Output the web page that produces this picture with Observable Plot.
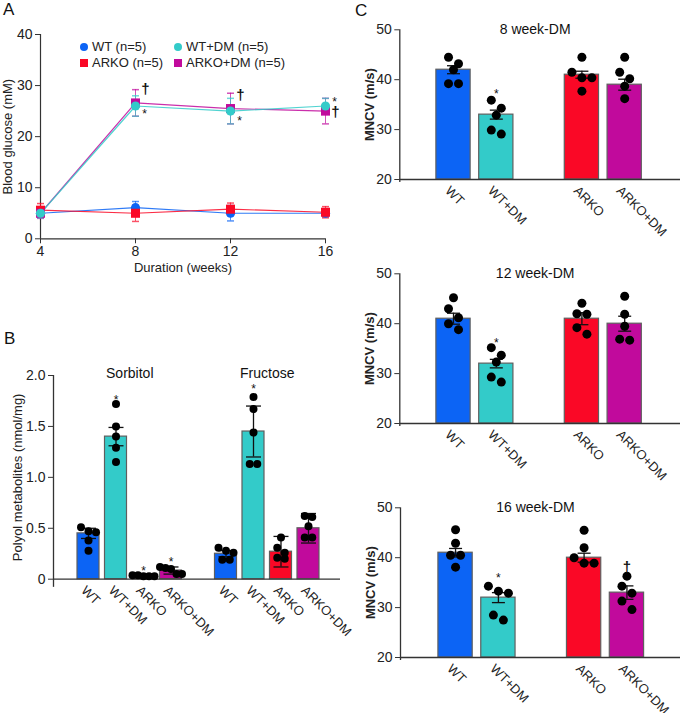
<!DOCTYPE html>
<html><head><meta charset="utf-8">
<script src="https://cdn.jsdelivr.net/npm/d3@7"></script>
<script src="https://cdn.jsdelivr.net/npm/@observablehq/plot@0.6"></script>
<style>
body{margin:0;background:#fff;font-family:"Liberation Sans",Arial,Helvetica,sans-serif;}
#fig{position:relative;width:680px;height:713px;overflow:hidden;background:#fff;}
.panel{position:absolute;}
.plabel{position:absolute;font-size:17px;line-height:17px;color:#111;}
.leg{position:absolute;display:flex;align-items:center;font-size:13px;line-height:16px;color:#222;white-space:nowrap;}
.leg svg{margin-right:3px;}
</style></head><body><div id="fig"></div>
<script>
const FONT = '"Liberation Sans", Arial, Helvetica, sans-serif';
const groupKeys = ["WT", "WT+DM", "ARKO", "ARKO+DM"];
const groupColors = ["#0c64f5", "#33cbc9", "#fa0826", "#c10a9c"];

// ---------- Panel A data ----------
const weeks = [4, 8, 12, 16];
const legendLabels = ["WT (n=5)", "WT+DM (n=5)", "ARKO (n=5)", "ARKO+DM (n=5)"];
const glucoseWT = [5.0, 6.1, 5.0, 5.0];
const glucoseWTErr = [0.8, 1.2, 1.5, 0.7];
const glucoseWTDM = [5.0, 26.0, 25.0, 26.0];
const glucoseWTDMErr = [0.9, 2.0, 2.5, 1.5];
const glucoseARKO = [5.6, 5.0, 5.8, 5.2];
const glucoseARKOErr = [1.3, 1.6, 1.2, 1.1];
const glucoseARKODM = [5.0, 26.6, 25.5, 25.0];
const glucoseARKODMErr = [1.0, 2.6, 3.0, 2.5];
const aTicksY = [0, 10, 20, 30, 40];
const aDaggerWeeks = [8, 12, 16];
const aDaggerValues = [29.2, 28.2, 24.8];
const aStarWeeks = [8, 12, 16];
const aStarValues = [25.0, 23.6, 27.3];

// ---------- Panel B data ----------
const polyolGroups = ["Sorbitol", "Fructose"];
const sorbitolMean = [0.45, 1.40, 0.03, 0.085];
const sorbitolSD = [0.05, 0.09, 0.01, 0.035];
const sorbitolPoints = [[0.51, 0.47, 0.46, 0.38, 0.28], [1.72, 1.50, 1.40, 1.29, 1.15], [0.04, 0.04, 0.03, 0.03, 0.03], [0.12, 0.11, 0.10, 0.05, 0.05]];
const sorbitolStars = [null, 1.79, 0.11, 0.20];
const fructoseMean = [0.25, 1.45, 0.27, 0.50];
const fructoseSD = [0.03, 0.25, 0.15, 0.145];
const fructosePoints = [[0.31, 0.28, 0.26, 0.19, 0.19], [1.79, 1.67, 1.44, 1.13, 1.13], [0.41, 0.31, 0.26, 0.21, 0.20], [0.62, 0.61, 0.52, 0.41, 0.41]];
const fructoseStars = [null, 1.90, null, null];
const bTicks = [0, 0.5, 1, 1.5, 2];
const bTickLabels = ["0", "0.5", "1.0", "1.5", "2.0"];

// ---------- Panel C data ----------
const mncvTitles = ["8 week-DM", "12 week-DM", "16 week-DM"];
const mncv8Mean = [42, 33, 41, 39];
const mncv8SEM = [0.8, 0.9, 0.7, 1.1];
const mncv8Points = [[44.5, 43.2, 42.0, 39.2, 39.2], [35.9, 34.3, 32.9, 29.9, 29.1], [44.5, 41.5, 40.4, 40.4, 37.7], [44.5, 41.5, 40.2, 38.7, 36.2]];
const mncv8Marks = [null, "*", null, null];
const mncv8MarkValues = [null, 37.7, null, null];
const mncv12Mean = [41, 32, 41, 40];
const mncv12SEM = [1.1, 0.85, 1.2, 1.5];
const mncv12Points = [[45.2, 43.0, 41.2, 40.0, 38.8], [35.2, 33.7, 32.3, 29.3, 28.3], [44.1, 42.0, 41.9, 39.2, 37.9], [45.5, 41.9, 39.5, 36.9, 36.7]];
const mncv12Marks = [null, "*", null, null];
const mncv12MarkValues = [null, 36.7, null, null];
const mncv16Mean = [41, 32, 40, 33];
const mncv16SEM = [0.85, 1.0, 0.9, 1.35];
const mncv16Points = [[45.6, 42.9, 40.5, 40.5, 38.1], [34.3, 33.3, 32.9, 28.5, 27.5], [45.5, 42.0, 40.0, 38.9, 38.9], [36.3, 34.3, 32.9, 31.3, 29.6]];
const mncv16Marks = [null, "*", null, "†"];
const mncv16MarkValues = [null, 36.5, null, 38.1];
const cTicks = [20, 30, 40, 50];
const cTickLabels = ["20", "30", "40", "50"];

// ---------- helpers ----------
const fig = document.getElementById("fig");
const STYLE = {fontFamily: FONT, fontSize: "13px", color: "#222", background: "transparent", overflow: "visible"};
const AXIS = "#333";
function place(el, left, top, w) {
  const d = document.createElement("div");
  d.className = "panel"; d.style.left = left + "px"; d.style.top = top + "px"; if (w) d.style.width = w + "px";
  d.appendChild(el); fig.appendChild(d);
}
function letter(t, left, top) {
  const d = document.createElement("div"); d.className = "plabel"; d.textContent = t;
  d.style.left = left + "px"; d.style.top = top + "px"; fig.appendChild(d);
}
const capSymbol = (w) => ({draw(ctx) { ctx.moveTo(-w / 2, 0); ctx.lineTo(w / 2, 0); }});

function swarm(values, unitPx, diam, spacing, maxHalf) {
  const order = values.map((v, i) => i).sort((a, b) => values[b] - values[a]);
  const rows = [];
  for (const i of order) {
    const last = rows[rows.length - 1];
    if (last && (values[last[0]] - values[i]) * unitPx < diam) last.push(i); else rows.push([i]);
  }
  const off = values.map(() => 0);
  for (const r of rows) {
    const n = r.length;
    const sp = n > 1 ? Math.min(spacing, 2 * maxHalf / (n - 1)) : 0;
    r.forEach((i, k) => off[i] = (k - (n - 1) / 2) * sp);
  }
  return off;
}

// ---------- Panel A ----------
(function () {
  const W = 340, H = 290, ml = 40, mr = 15, mt = 34, mb = 51.7;
  const drawOrder = [
    {key: "WT", mean: glucoseWT, err: glucoseWTErr, symbol: "circle", r: 4.6},
    {key: "ARKO", mean: glucoseARKO, err: glucoseARKOErr, symbol: "square", r: 5.1},
    {key: "ARKO+DM", mean: glucoseARKODM, err: glucoseARKODMErr, symbol: "square", r: 5.1},
    {key: "WT+DM", mean: glucoseWTDM, err: glucoseWTDMErr, symbol: "circle", r: 4.6}
  ];
  const rows = drawOrder.flatMap(s => weeks.map((w, i) => ({key: s.key, week: w, mean: s.mean[i], err: s.err[i]})));
  const xd = d3.extent(weeks), yd = d3.extent(aTicksY);
  const daggers = aDaggerWeeks.map((w, i) => ({week: w, v: aDaggerValues[i]}));
  const stars = aStarWeeks.map((w, i) => ({week: w, v: aStarValues[i]}));
  const marks = [
    Plot.ruleY([yd[0]], {stroke: AXIS, strokeWidth: 1.2}),
    Plot.ruleX([xd[0]], {y1: yd[0], y2: yd[1], stroke: AXIS, strokeWidth: 1.2}),
    Plot.axisY({ticks: aTicksY, tickSize: 5, tickPadding: 3, stroke: AXIS, label: null, fontSize: 14}),
    Plot.axisX({ticks: weeks, tickSize: 5, tickPadding: 2, stroke: AXIS, label: null, fontSize: 14}),
    Plot.text(["Duration (weeks)"], {text: d => d, frameAnchor: "bottom", textAnchor: "middle", lineAnchor: "middle", dy: 29, fontSize: 13}),
    Plot.text(["Blood glucose (mM)"], {text: d => d, frameAnchor: "left", textAnchor: "middle", lineAnchor: "middle", rotate: -90, dx: -33, fontSize: 13}),
    Plot.line(rows, {x: "week", y: "mean", z: "key", stroke: "key", strokeWidth: 1.2, strokeOpacity: 0.85}),
    Plot.ruleX(rows, {x: "week", y1: d => d.mean - d.err, y2: d => d.mean + d.err, stroke: "key", strokeOpacity: 0.7}),
    Plot.dot(rows, {x: "week", y: d => d.mean + d.err, symbol: capSymbol(7), r: 1, stroke: "key", fill: "none", strokeOpacity: 0.7}),
    Plot.dot(rows, {x: "week", y: d => d.mean - d.err, symbol: capSymbol(7), r: 1, stroke: "key", fill: "none", strokeOpacity: 0.7}),
    ...drawOrder.map(s => Plot.dot(rows.filter(d => d.key === s.key), {x: "week", y: "mean", symbol: s.symbol, r: s.r, fill: "key", stroke: "none"})),
    Plot.text(daggers, {x: "week", y: "v", text: () => "†", dx: 10, fontSize: 15, fontWeight: "bold", fill: "#111"}),
    Plot.text(stars, {x: "week", y: "v", text: () => "*", dx: 9, dy: 3, fontSize: 12, fill: "#111"})
  ];
  const p = Plot.plot({width: W, height: H, marginLeft: ml, marginRight: mr, marginTop: mt, marginBottom: mb,
    x: {domain: xd, axis: null}, y: {domain: yd, axis: null},
    color: {domain: groupKeys, range: groupColors}, style: STYLE, marks});
  place(p, 0, 0, W);
  // legend
  const legPos = [[0, 0], [1, 0], [0, 1], [1, 1]];
  const legSym = ["circle", "circle", "square", "square"];
  groupKeys.forEach((k, i) => {
    const d = document.createElement("div"); d.className = "leg";
    d.style.left = (79 + legPos[i][0] * 94) + "px"; d.style.top = (39 + legPos[i][1] * 15.5) + "px";
    const shape = legSym[i] === "circle" ? `<circle cx="5" cy="5" r="4" fill="${groupColors[i]}"/>` : `<rect x="1" y="1" width="8" height="8" fill="${groupColors[i]}"/>`;
    d.innerHTML = `<svg width="10" height="10">${shape}</svg><span>${legendLabels[i]}</span>`;
    fig.appendChild(d);
  });
})();

// ---------- generic bar panel ----------
function barPanel(cfg) {
  const {W, H, ml, mr, mt, mb, xDomain, yDomain, yExt, ticks, tickLabels, rows, capW, dotR, spacing, maxHalf,
    yTitle, yTitleDx, yTitleBold, labelDx, labelDy, titles, stars, starSize} = cfg;
  const stepPx = (W - ml - mr) / (xDomain[1] - xDomain[0]);
  const unitPx = (H - mt - mb) / (yDomain[1] - yDomain[0]);
  const dots = rows.flatMap(r => {
    const off = swarm(r.points, unitPx, dotR * 2, spacing, maxHalf);
    return r.points.map((v, i) => ({x: r.slot + off[i] / stepPx, v}));
  });
  const base = yDomain[0];
  const marks = [
    Plot.rectY(rows, {x1: d => d.slot - 0.4, x2: d => d.slot + 0.4, y1: base, y2: "mean", fill: "cat", stroke: "#5f5f5f", strokeWidth: 1.2}),
    Plot.ruleY([base], {stroke: AXIS, strokeWidth: 1.3}),
    Plot.ruleX([xDomain[0]], {y1: yExt, y2: yDomain[1], stroke: AXIS, strokeWidth: 1.3}),
    Plot.axisY({ticks, tickFormat: d => tickLabels[ticks.indexOf(d)], tickSize: 5, tickPadding: 3, stroke: AXIS, label: null, fontSize: 14}),
    Plot.text([yTitle], {text: d => d, frameAnchor: "left", textAnchor: "middle", lineAnchor: "middle", rotate: -90, dx: yTitleDx, fontSize: 13, fontWeight: yTitleBold ? "bold" : "normal"}),
    Plot.ruleX(rows, {x: "slot", y1: d => d.mean - d.err, y2: d => d.mean + d.err, stroke: "#111", strokeWidth: 1.3}),
    Plot.dot(rows, {x: "slot", y: d => d.mean + d.err, symbol: capSymbol(capW), r: 1, stroke: "#111", strokeWidth: 1.3, fill: "none"}),
    Plot.dot(rows, {x: "slot", y: d => d.mean - d.err, symbol: capSymbol(capW), r: 1, stroke: "#111", strokeWidth: 1.3, fill: "none"}),
    Plot.dot(dots, {x: "x", y: "v", r: dotR, fill: "#000", stroke: "none"}),
    Plot.text(rows, {x: "slot", y: base, text: "cat", rotate: 45, textAnchor: "start", lineAnchor: "middle", dx: labelDx, dy: labelDy, fontSize: 13, fill: "#222"}),
    Plot.text(stars.filter(s => s.mark === "*"), {x: "slot", y: "v", text: "mark", dy: 3, fontSize: starSize, fill: "#111"}),
    Plot.text(stars.filter(s => s.mark === "†"), {x: "slot", y: "v", text: "mark", fontSize: 15, fontWeight: "bold", fill: "#111"}),
    ...titles
  ];
  return Plot.plot({width: W, height: H, marginLeft: ml, marginRight: mr, marginTop: mt, marginBottom: mb,
    x: {domain: xDomain, axis: null}, y: {domain: yDomain, axis: null},
    color: {domain: groupKeys, range: groupColors}, style: STYLE, marks});
}

// ---------- Panel B ----------
(function () {
  const groups = [
    {name: polyolGroups[0], mean: sorbitolMean, err: sorbitolSD, pts: sorbitolPoints, stars: sorbitolStars},
    {name: polyolGroups[1], mean: fructoseMean, err: fructoseSD, pts: fructosePoints, stars: fructoseStars}
  ];
  const rows = [], stars = [];
  groups.forEach((g, gi) => groupKeys.forEach((k, i) => {
    const slot = gi * (groupKeys.length + 1) + i;
    rows.push({group: g.name, cat: k, slot, mean: g.mean[i], err: g.err[i], points: g.pts[i]});
    if (g.stars[i] != null) stars.push({slot, v: g.stars[i], mark: "*"});
  }));
  const titleRows = polyolGroups.map(n => ({name: n, slot: d3.mean(rows.filter(r => r.group === n), r => r.slot)}));
  const p = barPanel({W: 340, H: 373, ml: 53, mr: 0, mt: 35, mb: 134.3, xDomain: [-1.273, 9.164], yDomain: [0, 2], yExt: -0.08,
    ticks: bTicks, tickLabels: bTickLabels, rows, capW: 15, dotR: 4, spacing: 7.5, maxHalf: 11,
    yTitle: "Polyol metabolites (nmol/mg)", yTitleDx: -36, yTitleBold: false, labelDx: -5, labelDy: 9,
    stars, starSize: 12,
    titles: [Plot.text(titleRows, {x: "slot", text: "name", frameAnchor: "top", lineAnchor: "middle", dy: -2, fontSize: 14, fill: "#111"})]});
  place(p, 0, 340, 340);
})();

// ---------- Panel C ----------
(function () {
  const sets = [
    {mean: mncv8Mean, err: mncv8SEM, pts: mncv8Points, marks: mncv8Marks, mv: mncv8MarkValues, top: 0, H: 240, ml: 59.3, xDomain: [-1.255, 5.304]},
    {mean: mncv12Mean, err: mncv12SEM, pts: mncv12Points, marks: mncv12Marks, mv: mncv12MarkValues, top: 244, H: 240, ml: 59.3, xDomain: [-1.255, 5.304]},
    {mean: mncv16Mean, err: mncv16SEM, pts: mncv16Points, marks: mncv16Marks, mv: mncv16MarkValues, top: 478, H: 235, ml: 60, xDomain: [-1.285, 5.25]}
  ];
  sets.forEach((s, si) => {
    const rows = groupKeys.map((k, i) => ({cat: k, slot: i + (i >= 2 ? 1 : 0), mean: s.mean[i], err: s.err[i], points: s.pts[i]}));
    const stars = rows.map((r, i) => ({slot: r.slot, v: s.mv[i], mark: s.marks[i]})).filter(d => d.mark);
    const p = barPanel({W: 340, H: s.H, ml: s.ml, mr: 0, mt: 29.3, mb: s.H - 179, xDomain: s.xDomain, yDomain: [20, 50], yExt: 19.4,
      ticks: cTicks.map(Number), tickLabels: cTickLabels, rows, capW: 13, dotR: 4.5, spacing: 10, maxHalf: 12,
      yTitle: "MNCV (m/s)", yTitleDx: -30, yTitleBold: true, labelDx: -6, labelDy: 9,
      stars, starSize: 12,
      titles: [Plot.text([mncvTitles[si]], {text: d => d, frameAnchor: "top", textAnchor: "middle", lineAnchor: "middle", dx: -5, fontSize: 14, fill: "#111"})]});
    place(p, 340, s.top, 340);
  });
})();

letter("A", 3, 1);
letter("B", 4, 330);
letter("C", 355, 2);
</script></body></html>
